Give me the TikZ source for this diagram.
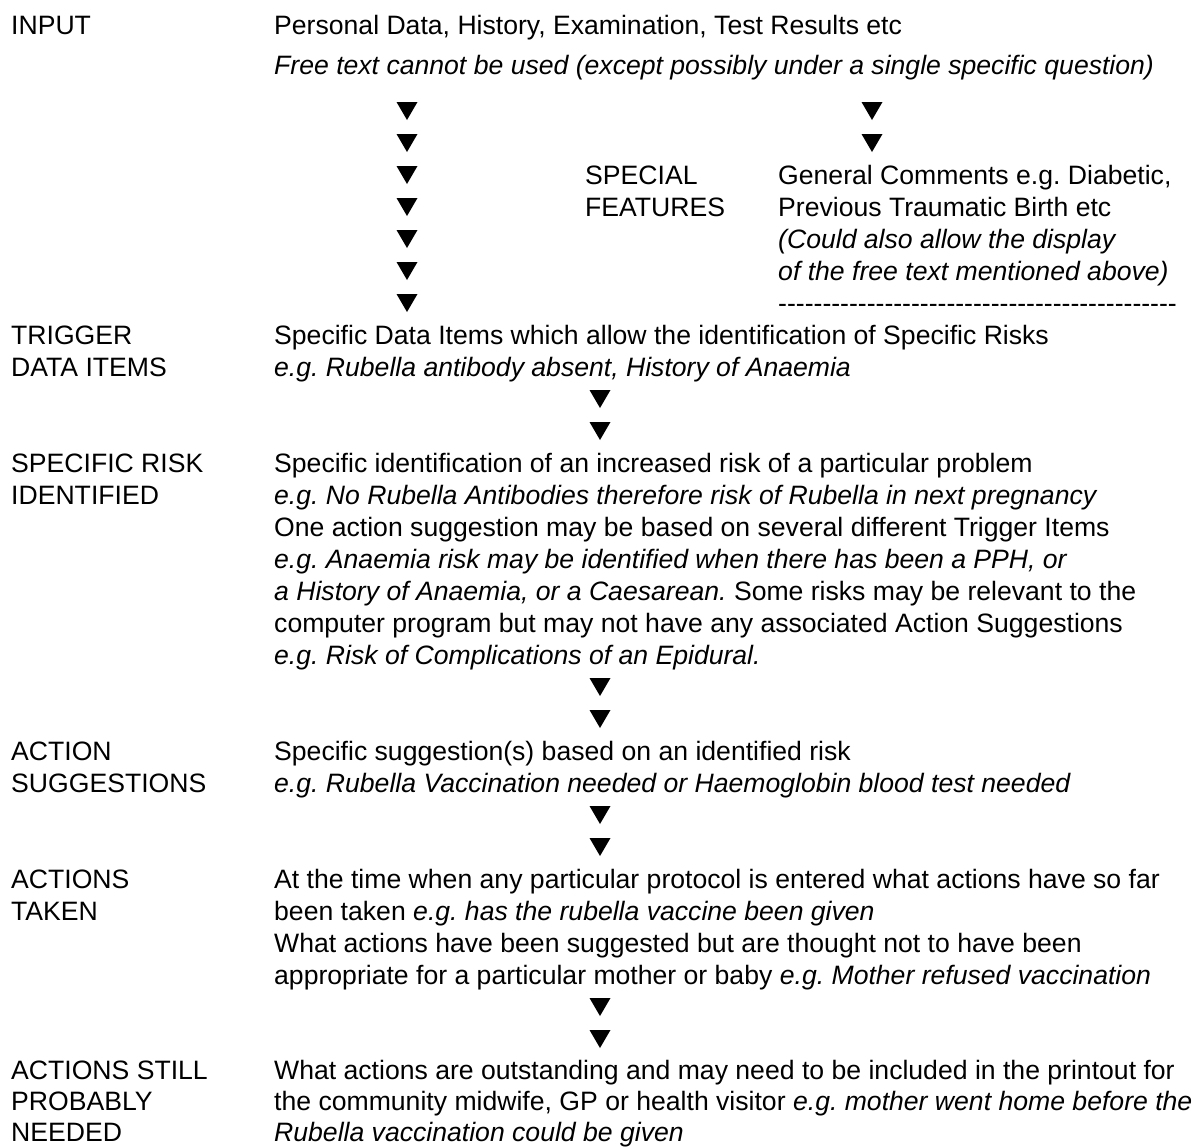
\documentclass[tikz,border=0pt]{standalone}
\usepackage{fontspec}
\setmainfont{Liberation Sans}
\newfontfamily\rulefont{Liberation Sans}[Ligatures=TeXOff]
\usepackage{tikz}
\frenchspacing

\begin{document}
\begin{tikzpicture}[x=1pt, y=-1pt, lbl/.style={anchor=base west, inner sep=0, font=\fontsize{26.6}{32}\selectfont}, info/.style={lbl}, eg/.style={lbl, font=\fontsize{26.6}{32}\selectfont\itshape}, rule/.style={lbl, font=\fontsize{26.6}{32}\selectfont\rulefont}, tri/.style={fill=black}]
            \useasboundingbox (0,0) rectangle (1201,1146);
            % stage labels
            \node[lbl] (input) at (11,34) {INPUT};
            \node[lbl] (trigger) at (11,344) {TRIGGER};
            \node[lbl] (trigger2) at (11,376) {DATA ITEMS};
            \node[lbl] (risk) at (11,472) {SPECIFIC RISK};
            \node[lbl] (risk2) at (11,504) {IDENTIFIED};
            \node[lbl] (sugg) at (11,760) {ACTION};
            \node[lbl] (sugg2) at (11,792) {SUGGESTIONS};
            \node[lbl] (taken) at (11,888) {ACTIONS};
            \node[lbl] (taken2) at (11,920) {TAKEN};
            \node[lbl] (still) at (11,1079) {ACTIONS STILL};
            \node[lbl] (still2) at (11,1110) {PROBABLY};
            \node[lbl] (still3) at (11,1141) {NEEDED};
            \node[lbl] (special) at (585,184) {SPECIAL};
            \node[lbl] (special2) at (585,216) {FEATURES};
            % texts
            \node[info] (input-a) at (274,34) {Personal Data, History, Examination, Test Results etc};
            \node[eg] (input-b) at (274,74) {Free text cannot be used (except possibly under a single specific question)};
            \node[info] (special-a) at (778,184) {General Comments e.g. Diabetic,};
            \node[info] (special-b) at (778,216) {Previous Traumatic Birth etc};
            \node[eg] (special-c) at (778,248) {(Could also allow the display};
            \node[eg] (special-d) at (778,280) {of the free text mentioned above)};
            \node[rule] (special-e) at (778,312) {---------------------------------------------};
            \node[info] (trigger-a) at (274,344) {Specific Data Items which allow the identification of Specific Risks};
            \node[eg] (trigger-b) at (274,376) {e.g. Rubella antibody absent, History of Anaemia};
            \node[info] (risk-a) at (274,472) {Specific identification of an increased risk of a particular problem};
            \node[eg] (risk-b) at (274,504) {e.g. No Rubella Antibodies therefore risk of Rubella in next pregnancy};
            \node[info] (risk-c) at (274,536) {One action suggestion may be based on several different Trigger Items};
            \node[eg] (risk-d) at (274,568) {e.g. Anaemia risk may be identified when there has been a PPH, or};
            \node[info] (risk-e) at (274,600) {\itshape a History of Anaemia, or a Caesarean.\upshape{} Some risks may be relevant to the};
            \node[info] (risk-f) at (274,632) {computer program but may not have any associated Action Suggestions};
            \node[eg] (risk-g) at (274,664) {e.g. Risk of Complications of an Epidural.};
            \node[info] (sugg-a) at (274,760) {Specific suggestion(s) based on an identified risk};
            \node[eg] (sugg-b) at (274,792) {e.g. Rubella Vaccination needed or Haemoglobin blood test needed};
            \node[info] (taken-a) at (274,888) {At the time when any particular protocol is entered what actions have so far};
            \node[info] (taken-b) at (274,920) {been taken \itshape e.g. has the rubella vaccine been given};
            \node[info] (taken-c) at (274,952) {What actions have been suggested but are thought not to have been};
            \node[info] (taken-d) at (274,984) {appropriate for a particular mother or baby \itshape e.g. Mother refused vaccination};
            \node[info] (still-a) at (274,1079) {What actions are outstanding and may need to be included in the printout for};
            \node[info] (still-b) at (274,1110) {the community midwife, GP or health visitor \itshape e.g. mother went home before the};
            \node[eg] (still-c) at (274,1141) {Rubella vaccination could be given};
            % markers
            \foreach \y in {111,143,...,303}
                \fill[tri] (407,\y) ++(-10.5,-9) -- ++(21,0) -- ++(-10.5,18) -- cycle;
            \foreach \y in {111,143}
                \fill[tri] (872,\y) ++(-10.5,-9) -- ++(21,0) -- ++(-10.5,18) -- cycle;
            \foreach \y in {399,431,687,719,815,847,1007,1039}
                \fill[tri] (600,\y) ++(-10.5,-9) -- ++(21,0) -- ++(-10.5,18) -- cycle;
        \end{tikzpicture}
\end{document}
